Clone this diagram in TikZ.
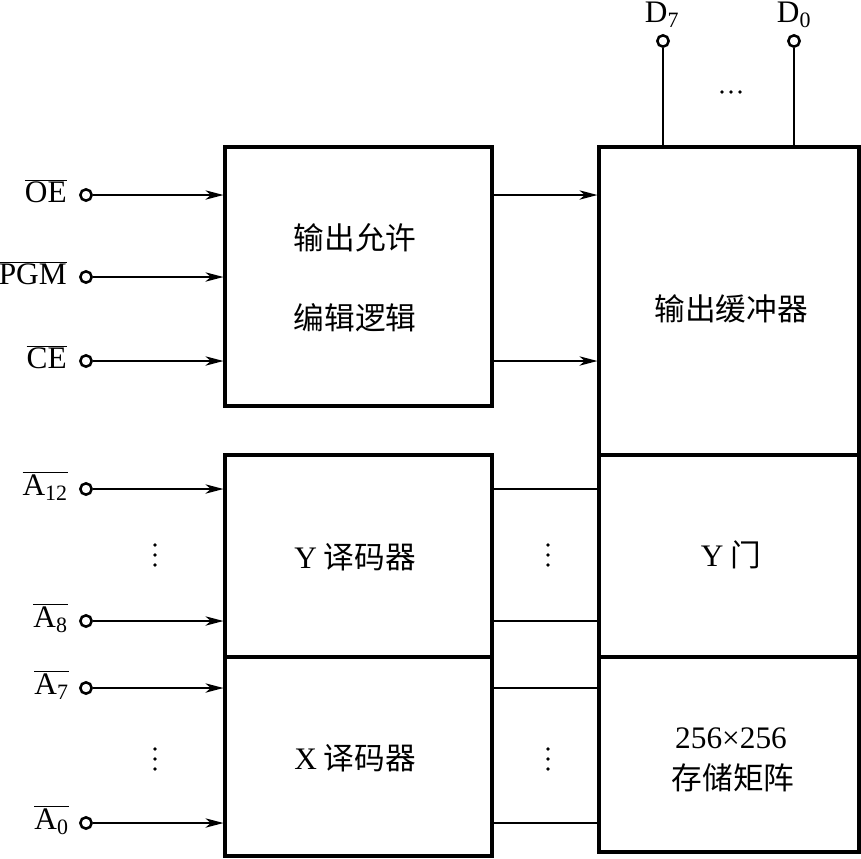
\documentclass[tikz,border=0pt]{standalone}
\usepackage{fontspec}
\setmainfont{Liberation Serif}
\newfontfamily\cjk{Noto Sans CJK SC}
\usetikzlibrary{arrows.meta}
\newdimen\px \px=0.75pt
\newcommand\ovl[1]{$\overline{\hbox{#1}}$}
\begin{document}
\begin{tikzpicture}[x=0.75pt,y=-0.75pt,
  blk/.style={draw,line width=2.3pt,inner sep=0,minimum width=#1},
  pinc/.style={draw,circle,line width=1.9pt,minimum size=8.5pt,inner sep=0},
  lbl/.style={font=\fontsize{23.5}{25}\selectfont,inner sep=0},
  cn/.style={font=\cjk\fontsize{23}{25}\selectfont,inner sep=0},
  wire/.style={line width=1.5pt},
  arr/.style={wire,-{Stealth[length=13.5pt,width=7pt,inset=4pt]}},
  dot/.style={fill,circle,inner sep=0,minimum size=2.8pt}]
\useasboundingbox (0,0) rectangle (861,858);
% boxes
\node[blk=267\px,minimum height=259\px] (ctl) at (358.5,276.5) {};
\node[blk=267\px,minimum height=202\px] (ydec) at (358.5,556) {};
\node[blk=267\px,minimum height=199\px] (xdec) at (358.5,756.5) {};
\node[blk=260\px,minimum height=308\px] (buf) at (729,301) {};
\node[blk=260\px,minimum height=202\px] (ygate) at (729,556) {};
\node[blk=260\px,minimum height=195\px] (mem) at (729,754.5) {};
% box texts
\node[cn] (t1) at (355,238) {输出允许};
\node[cn] (t2) at (355,318) {编辑逻辑};
\node[cn] (t3) at (731,309) {输出缓冲器};
\node[cn] (t4) at (355,557) {{\fontsize{23.5}{25}\rmfamily Y} 译码器};
\node[cn] (t5) at (731,555) {{\fontsize{23.5}{25}\rmfamily Y} 门};
\node[cn] (t6) at (355,758) {{\fontsize{23.5}{25}\rmfamily X} 译码器};
\node[lbl] (t7) at (731,738) {256×256};
\node[cn] (t8) at (733,778) {存储矩阵};
% input pins
\foreach \n/\y in {oe/195,pgm/277,ce/361,a12/489,a8/621,a7/688,a0/823}{
  \node[pinc] (\n) at (86,\y) {};
}
\node[lbl,anchor=east] (oeL) at (67,191) {\ovl{OE}};
\node[lbl,anchor=east] (pgmL) at (67,273) {\ovl{PGM}};
\node[lbl,anchor=east] (ceL) at (67,357) {\ovl{CE}};
\node[lbl,anchor=east] (a12L) at (68,486) {\ovl{A\textsubscript{12}}};
\node[lbl,anchor=east] (a8L) at (68,618) {\ovl{A\textsubscript{8}}};
\node[lbl,anchor=east] (a7L) at (69,685) {\ovl{A\textsubscript{7}}};
\node[lbl,anchor=east] (a0L) at (69,820) {\ovl{A\textsubscript{0}}};
% input arrows
\draw[arr] (oe) -- (oe -| ctl.west);
\draw[arr] (pgm) -- (pgm -| ctl.west);
\draw[arr] (ce) -- (ce -| ctl.west);
\draw[arr] (a12) -- (a12 -| ydec.west);
\draw[arr] (a8) -- (a8 -| ydec.west);
\draw[arr] (a7) -- (a7 -| xdec.west);
\draw[arr] (a0) -- (a0 -| xdec.west);
% middle connections
\draw[arr] (oe -| ctl.east) -- (oe -| buf.west);
\draw[arr] (ce -| ctl.east) -- (ce -| buf.west);
\draw[wire] (a12 -| ydec.east) -- (a12 -| ygate.west);
\draw[wire] (a8 -| ydec.east) -- (a8 -| ygate.west);
\draw[wire] (a7 -| xdec.east) -- (a7 -| mem.west);
\draw[wire] (a0 -| xdec.east) -- (a0 -| mem.west);
% vertical dots
\foreach \x in {155,548}{
  \foreach \y in {545,555,565,749,759,769}{
    \node[dot] at (\x,\y) {};
  }
}
% outputs
\node[pinc] (d7) at (663,41) {};
\node[pinc] (d0) at (794,41) {};
\draw[wire] (d7) -- (d7 |- buf.north);
\draw[wire] (d0) -- (d0 |- buf.north);
\node[lbl] (d7L) at (662,15) {D\textsubscript{7}};
\node[lbl] (d0L) at (794,15) {D\textsubscript{0}};
\foreach \x in {722,731,740}{
  \node[dot] at (\x,92) {};
}
\end{tikzpicture}
\end{document}
